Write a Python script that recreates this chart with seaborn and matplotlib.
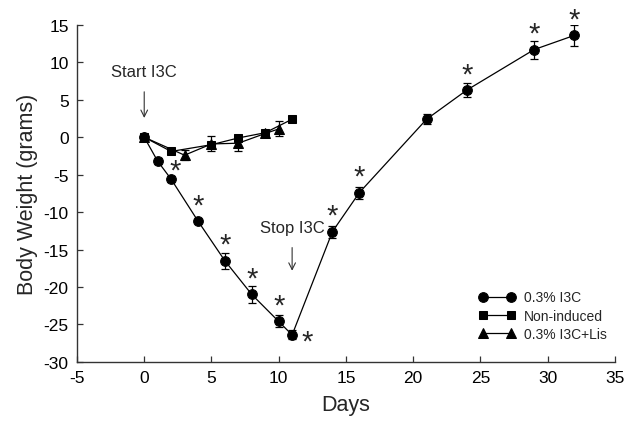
import matplotlib
matplotlib.use('Agg')
import matplotlib.pyplot as plt
import seaborn as sns
import numpy as np
import pandas as pd

#-----------
# DATA
#-----------
i3c_days = [0, 1, 2, 4, 6, 8, 10, 11, 14, 16, 21, 24, 29, 32]
i3c_mean = [0, -3.2, -5.6, -11.2, -16.5, -21.0, -24.6, -26.4, -12.6, -7.4, 2.4, 6.3, 11.7, 13.6]
i3c_se = [0.4, 0.4, 0.4, 0.3, 1.05, 1.1, 0.8, 0.6, 0.8, 0.8, 0.7, 0.9, 1.2, 1.4]

non_days = [0, 2, 5, 7, 9, 11]
non_mean = [0, -1.9, -1.0, -0.1, 0.6, 2.4]
non_se = [0.3, 0.3, 0.3, 0.3, 0.3, 0.3]

lis_days = [0, 3, 5, 7, 9, 10]
lis_mean = [0, -2.4, -0.9, -0.8, 0.5, 1.1]
lis_se = [0.3, 0.7, 1.0, 1.1, 0.3, 1.0]

# days of i3c series with significance marks
star_days = [2, 4, 6, 8, 10, 11, 14, 16, 24, 29, 32]

series = [
  ('0.3% I3C', i3c_days, i3c_mean, i3c_se, 'o', 7.0),
  ('Non-induced', non_days, non_mean, non_se, 's', 5.8),
  ('0.3% I3C+Lis', lis_days, lis_mean, lis_se, '^', 6.5),
]

#-----------
# PLOT
#-----------
sns.set_style('ticks')
plt.rcParams['font.family'] = ['Liberation Sans', 'DejaVu Sans']
plt.rcParams['axes.unicode_minus'] = False

fig = plt.figure(figsize=(6.28, 4.31), dpi=100)
ax = fig.add_axes([0.1226, 0.158, 0.8564, 0.782])

for name, days, mean, se, marker, ms in series:
  df = pd.DataFrame({'day': days, 'weight': mean})
  ax.errorbar(days, mean, yerr=se, fmt='none', ecolor='black', elinewidth=0.9, capsize=3, capthick=0.9, zorder=2)
  sns.lineplot(data=df, x='day', y='weight', ax=ax, color='black', linewidth=0.9,
    marker=marker, markersize=ms, markeredgecolor='black', markerfacecolor='black',
    label=name, zorder=3)

# significance stars
i3c = dict(zip(i3c_days, i3c_mean))
for d in star_days:
  if d == 2:
    x, y = d + 0.3, i3c[d] + 1.1
  elif d == 11:
    x, y = d + 1.1, i3c[d] - 0.9
  else:
    x, y = d, i3c[d] + 2.1
  ax.text(x, y, '*', fontsize=21, ha='center', va='center', clip_on=False)

# treatment annotations
ax.annotate('Start I3C', xy=(0, 2.2), xytext=(0, 8.8), ha='center', va='center', fontsize=12,
  arrowprops=dict(arrowstyle='->', color='#333333', lw=0.8, shrinkA=7))
ax.annotate('Stop I3C', xy=(11, -18.2), xytext=(11, -12.0), ha='center', va='center', fontsize=12,
  arrowprops=dict(arrowstyle='->', color='#333333', lw=0.8, shrinkA=7))

ax.set_xlim(-5, 35)
ax.set_ylim(-30, 15)
ax.set_xticks(np.arange(-5, 36, 5))
ax.set_yticks(np.arange(-30, 16, 5))
ax.tick_params(direction='in', length=4, width=0.9, labelsize=12.5, colors='#333333', labelcolor='black', pad=6)
for s in ['left', 'bottom']:
  ax.spines[s].set_linewidth(1.0)
  ax.spines[s].set_color('#333333')
sns.despine(ax=ax)

ax.set_xlabel('Days', fontsize=15.5, labelpad=6)
ax.set_ylabel('Body Weight (grams)', fontsize=15.5, labelpad=4)

ax.legend(loc='lower right', bbox_to_anchor=(1.0, 0.038), frameon=False, fontsize=10,
  numpoints=2, handlelength=2.6, handletextpad=0.6, labelspacing=0.3, borderaxespad=0.2)

fig.savefig('out.png', dpi=100)
